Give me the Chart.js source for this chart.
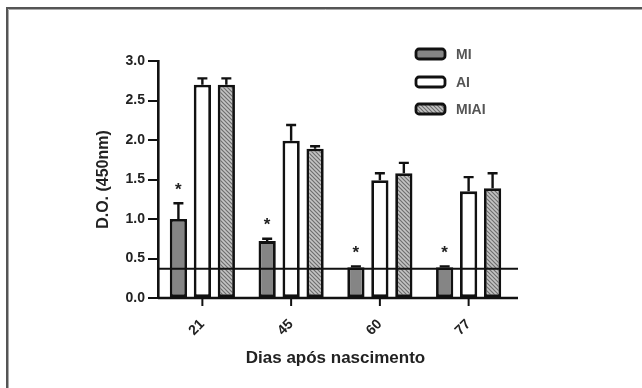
<!DOCTYPE html>
<html>
<head>
<meta charset="utf-8">
<script src="https://cdn.jsdelivr.net/npm/chart.js@4/dist/chart.umd.min.js"></script>
<style>
html,body{margin:0;padding:0;background:#fff;}
#wrap{position:relative;width:642px;height:388px;}
</style>
</head>
<body>
<div id="wrap"><canvas id="c" width="642" height="388"></canvas></div>
<script>
// ---- data ----
const categories = ['21', '45', '60', '77'];
const seriesNames = ['MI', 'AI', 'MIAI'];
const miValues   = [1.00, 0.72, 0.39, 0.39];
const miErr      = [0.20, 0.03, 0.01, 0.01];
const aiValues   = [2.70, 1.99, 1.49, 1.35];
const aiErr      = [0.08, 0.20, 0.09, 0.18];
const miaiValues = [2.70, 1.89, 1.58, 1.39];
const miaiErr    = [0.08, 0.03, 0.13, 0.19];
const significant = [true, true, true, true]; // '*' over MI bars
const cutoff = 0.37;
const yTicks = [0, 0.5, 1.0, 1.5, 2.0, 2.5, 3.0];

// hatch pattern for MIAI
function makeHatch() {
  const p = document.createElement('canvas');
  p.width = 4; p.height = 4;
  const g = p.getContext('2d');
  g.fillStyle = '#c4c4c4';
  g.fillRect(0, 0, 4, 4);
  g.strokeStyle = '#6e6e6e';
  g.lineWidth = 1.2;
  g.beginPath();
  g.moveTo(-1, -1); g.lineTo(5, 5);
  g.moveTo(-1, 3); g.lineTo(1, 5);
  g.moveTo(3, -1); g.lineTo(5, 1);
  g.stroke();
  return document.getElementById('c').getContext('2d').createPattern(p, 'repeat');
}
const hatch = makeHatch();

const errs = [miErr, aiErr, miaiErr];

const framePlugin = {
  id: 'frame',
  beforeDraw(chart) {
    const ctx = chart.ctx;
    ctx.save();
    ctx.strokeStyle = '#555';
    ctx.lineWidth = 2;
    ctx.beginPath();
    ctx.moveTo(642, 8); ctx.lineTo(7, 8); ctx.lineTo(7, 388);
    ctx.stroke();
    ctx.strokeStyle = '#aaa';
    ctx.lineWidth = 1;
    ctx.beginPath();
    ctx.moveTo(642, 9.5); ctx.lineTo(8.5, 9.5); ctx.lineTo(8.5, 388);
    ctx.stroke();
    ctx.restore();
  }
};

const extrasPlugin = {
  id: 'extras',
  afterDatasetsDraw(chart) {
    const ctx = chart.ctx;
    const y = chart.scales.y;
    const x = chart.scales.x;
    const area = chart.chartArea;
    ctx.save();
    // error bars (upper only, with caps)
    ctx.strokeStyle = '#111';
    ctx.lineWidth = 2.4;
    chart.data.datasets.forEach((ds, di) => {
      const meta = chart.getDatasetMeta(di);
      meta.data.forEach((bar, i) => {
        const top = y.getPixelForValue(ds.data[i] + errs[di][i]);
        const vTop = y.getPixelForValue(ds.data[i]);
        ctx.beginPath();
        ctx.moveTo(bar.x, vTop);
        ctx.lineTo(bar.x, top);
        ctx.moveTo(bar.x - 5, top);
        ctx.lineTo(bar.x + 5, top);
        ctx.stroke();
      });
    });
    // significance stars above MI bars
    ctx.fillStyle = '#222';
    ctx.font = 'bold 17px "Liberation Sans", Arial, sans-serif';
    ctx.textAlign = 'center';
    ctx.textBaseline = 'middle';
    const m0 = chart.getDatasetMeta(0);
    m0.data.forEach((bar, i) => {
      if (!significant[i]) return;
      const top = y.getPixelForValue(miValues[i] + miErr[i]);
      ctx.fillText('*', bar.x, top - 13);
    });
    // cutoff line
    const cy = y.getPixelForValue(cutoff);
    ctx.strokeStyle = '#111';
    ctx.lineWidth = 2.2;
    ctx.beginPath();
    ctx.moveTo(area.left, cy);
    ctx.lineTo(area.right + 5, cy);
    ctx.stroke();
    // x axis line (extends a little past the last category)
    const by = y.getPixelForValue(0);
    ctx.lineWidth = 2.6;
    ctx.beginPath();
    ctx.moveTo(area.left, by);
    ctx.lineTo(area.right + 5, by);
    ctx.stroke();
    // x tick marks at category centres
    ctx.lineWidth = 2;
    categories.forEach((c, i) => {
      const px = x.getPixelForValue(i);
      ctx.beginPath();
      ctx.moveTo(px, by);
      ctx.lineTo(px, by + 8);
      ctx.stroke();
    });
    ctx.restore();
  },
  afterDraw(chart) {
    // legend
    const ctx = chart.ctx;
    ctx.save();
    const rowsY = [54, 82, 109];
    chart.data.datasets.forEach((ds, i) => {
      const x = 416, w = 29, h = 10, yy = rowsY[i] - h / 2;
      ctx.beginPath();
      ctx.roundRect(x, yy, w, h, 3);
      ctx.fillStyle = ds.backgroundColor;
      ctx.fill();
      ctx.lineWidth = 2.8;
      ctx.strokeStyle = '#111';
      ctx.stroke();
      ctx.fillStyle = '#555';
      ctx.font = 'bold 14px "Liberation Sans", Arial, sans-serif';
      ctx.textAlign = 'left';
      ctx.textBaseline = 'middle';
      ctx.fillText(ds.label, 456, rowsY[i] + 1);
    });
    ctx.restore();
  }
};

const tickFont = { family: '"Liberation Sans", Arial, sans-serif', size: 14, weight: 'bold' };

new Chart(document.getElementById('c'), {
  type: 'bar',
  data: {
    labels: categories,
    datasets: [
      { label: seriesNames[0], data: miValues, backgroundColor: '#858585' },
      { label: seriesNames[1], data: aiValues, backgroundColor: '#ffffff' },
      { label: seriesNames[2], data: miaiValues, backgroundColor: hatch }
    ].map(d => Object.assign(d, { borderColor: '#111', borderWidth: 2.8, borderSkipped: false }))
  },
  options: {
    responsive: false,
    animation: false,
    devicePixelRatio: 1,
    categoryPercentage: 0.81,
    barPercentage: 0.72,
    layout: { padding: { left: 0, right: 129, top: 61, bottom: 0 } },
    plugins: { legend: { display: false }, tooltip: { enabled: false } },
    scales: {
      x: {
        offset: true,
        grid: { display: false, tickLength: 8 },
        border: { display: false },
        ticks: { color: '#222', font: tickFont, minRotation: 45, maxRotation: 45, padding: 10 },
        title: { display: true, text: 'Dias após nascimento', color: '#222',
                 font: { family: '"Liberation Sans", Arial, sans-serif', size: 17, weight: 'bold' },
                 padding: { top: 0, bottom: 19 } },
        afterFit(s) { s.height = 90; }
      },
      y: {
        min: 0, max: 3,
        afterBuildTicks(s) { s.ticks = yTicks.map(v => ({ value: v })); },
        grid: { display: true, drawOnChartArea: false, drawTicks: true, tickLength: 10, color: '#111', lineWidth: 2 },
        border: { display: true, color: '#111', width: 2.6 },
        ticks: { color: '#222', font: tickFont, padding: 3, callback: v => Number(v).toFixed(1) },
        title: { display: true, text: 'D.O. (450nm)', color: '#222',
                 font: { family: '"Liberation Sans", Arial, sans-serif', size: 16, weight: 'bold' },
                 padding: { top: 94, bottom: 0 } },
        afterFit(s) { s.width = 158; }
      }
    }
  },
  plugins: [framePlugin, extrasPlugin]
});
</script>
</body>
</html>
